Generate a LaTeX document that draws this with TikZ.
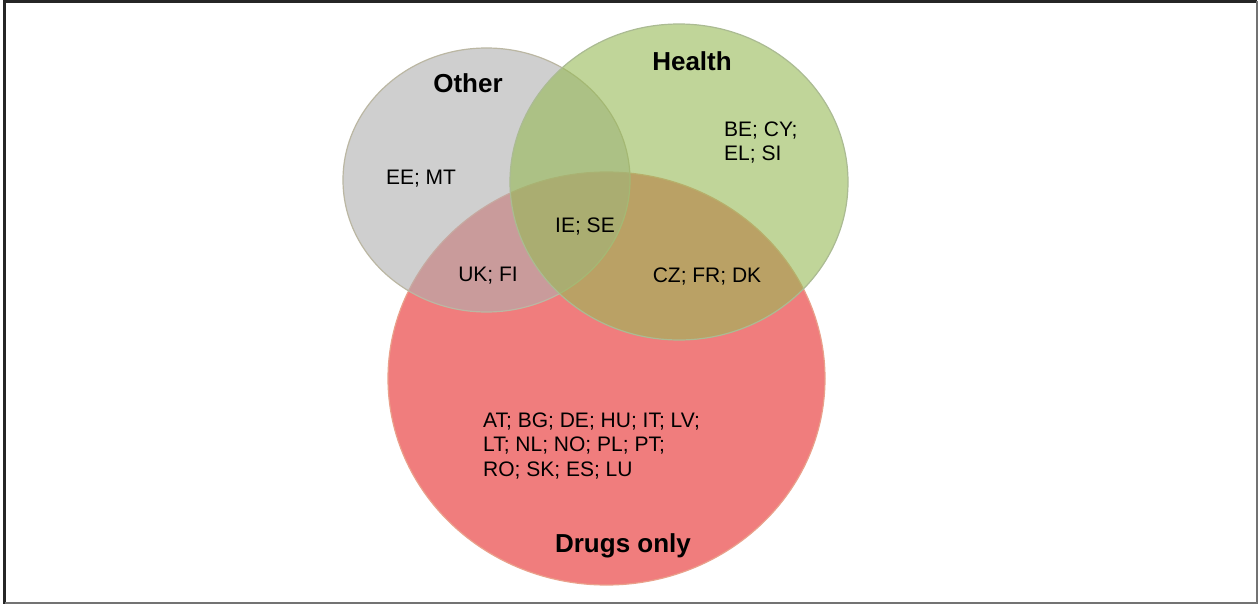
\documentclass[tikz,border=0pt]{standalone}
\usepackage{fontspec}
\setmainfont{Liberation Sans}
\usetikzlibrary{shapes.geometric}
\definecolor{drugsfill}{RGB}{240,125,125}
\definecolor{drugsedge}{RGB}{225,120,90}
\definecolor{otherfill}{RGB}{175,175,175}
\definecolor{otheredge}{RGB}{170,165,140}
\definecolor{healthfill}{RGB}{150,185,85}
\definecolor{healthedge}{RGB}{150,170,120}
\tikzset{
  setcircle/.style={ellipse, inner sep=0pt, line width=1.2pt},
  title/.style={font=\fontsize{26}{30}\selectfont\bfseries, anchor=base, inner sep=0pt},
  members/.style={font=\fontsize{21}{24.5}\selectfont, inner sep=0pt},
}
\begin{document}
\begin{tikzpicture}[x=1pt, y=-1pt]
\useasboundingbox (0,0) rectangle (1259,604);
\fill[white] (0,0) rectangle (1259,604);
% frame
\draw[line width=2.5pt, black!85] (1257,603) -- (4.5,603) -- (4.5,1.5) -- (1257,1.5);
\draw[line width=2pt, black!55] (1257,1.5) -- (1257,603) -- (4.5,603);
% circles
\node[setcircle, draw=drugsedge!70, fill=drugsfill, minimum width=437pt, minimum height=413pt] (drugs) at (606.5,378.5) {};
\node[setcircle, draw=otheredge!80, fill=otherfill, fill opacity=0.6, minimum width=287pt, minimum height=264pt] (other) at (486.5,180) {};
\node[setcircle, draw=healthedge!80, fill=healthfill, fill opacity=0.6, minimum width=338pt, minimum height=316pt] (health) at (679,182) {};
% titles
\node[title] (tother) at (468,93) {Other};
\node[title] (thealth) at (692,71) {Health};
\node[title] (tdrugs) at (623,552) {Drugs only};
% members
\node[members, anchor=base] (ee) at (421,185) {EE; MT};
\node[members, anchor=base] (ie) at (585,233) {IE; SE};
\node[members, anchor=base] (uk) at (488,282) {UK; FI};
\node[members, anchor=base] (cz) at (707,283) {CZ; FR; DK};
\node[members, anchor=base west, align=left, font=\fontsize{21}{24}\selectfont] (be) at (724,161) {BE; CY;\\EL; SI};
\node[members, anchor=base west, align=left, font=\fontsize{21}{24.5}\selectfont] (at) at (483,476) {AT; BG; DE; HU; IT; LV;\\LT; NL; NO; PL; PT;\\RO; SK; ES; LU};
\end{tikzpicture}
\end{document}
